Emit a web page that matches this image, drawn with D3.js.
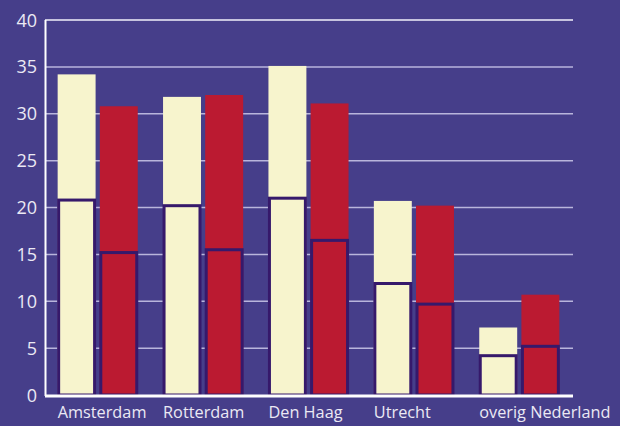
<!DOCTYPE html>
<html>
<head>
<meta charset="utf-8">
<script src="https://cdn.jsdelivr.net/npm/d3@7"></script>
<style>
  html, body { margin: 0; padding: 0; background: #463e8a; }
  svg { display: block; }
  text { font-family: "Open Sans", sans-serif; fill: #ebe9f4; }
</style>
</head>
<body>
<div id="chart"></div>
<script>
// data
const categories = ["Amsterdam", "Rotterdam", "Den Haag", "Utrecht", "overig Nederland"];
const series = ["cream", "red"];
const totals = {
  cream: [34.2, 31.8, 35.1, 20.7, 7.2],
  red: [30.8, 32.0, 31.1, 20.2, 10.7]
};
const inner = {
  cream: [20.9, 20.3, 21.1, 12.0, 4.3],
  red: [15.3, 15.6, 16.6, 9.8, 5.3]
};
const yTicks = [0, 5, 10, 15, 20, 25, 30, 35, 40];

const width = 620, height = 426;
const colors = { cream: "#f7f4cd", red: "#bb1a31" };

const svg = d3.select("#chart").append("svg")
  .attr("width", width)
  .attr("height", height);

svg.append("rect").attr("width", width).attr("height", height).attr("fill", "#463e8a");

const x0 = d3.scaleBand().domain(categories).range([45, 572]).paddingInner(0.24).paddingOuter(0.12);
const x1 = d3.scaleBand().domain(series).range([0, x0.bandwidth()]).paddingInner(0.1);
const y = d3.scaleLinear().domain([0, 40]).range([395, 20]);

// gridlines
svg.append("g").selectAll("line")
  .data(yTicks.filter(d => d > 0))
  .join("line")
  .attr("x1", 45).attr("x2", 573)
  .attr("y1", d => y(d)).attr("y2", d => y(d))
  .attr("stroke", d => d === 40 ? "#f2f0fa" : "#b9b5dc")
  .attr("stroke-width", 1.5);

// bars
const groups = svg.append("g").selectAll("g")
  .data(categories)
  .join("g")
  .attr("transform", d => `translate(${x0(d)},0)`);

const rows = (c, i) => series.map(s => ({ s, total: totals[s][i], inner: inner[s][i] }));

groups.selectAll("rect.total")
  .data(rows)
  .join("rect")
  .attr("class", "total")
  .attr("x", d => x1(d.s))
  .attr("width", x1.bandwidth())
  .attr("y", d => y(d.total))
  .attr("height", d => y(0) - y(d.total))
  .attr("fill", d => colors[d.s]);

groups.selectAll("rect.inner")
  .data(rows)
  .join("rect")
  .attr("class", "inner")
  .attr("x", d => x1(d.s) + 1)
  .attr("width", x1.bandwidth() - 2)
  .attr("y", d => y(d.inner) + 1)
  .attr("height", d => y(0) - y(d.inner) - 1)
  .attr("fill", d => colors[d.s])
  .attr("stroke", "#36196b")
  .attr("stroke-width", 3);

// axes
svg.append("line")
  .attr("x1", 45.5).attr("x2", 45.5)
  .attr("y1", 20).attr("y2", 396)
  .attr("stroke", "#ffffff").attr("stroke-width", 2);
svg.append("line")
  .attr("x1", 45).attr("x2", 573)
  .attr("y1", 396).attr("y2", 396)
  .attr("stroke", "#ffffff").attr("stroke-width", 3);

// y labels
svg.append("g").selectAll("text")
  .data(yTicks)
  .join("text")
  .attr("x", 37)
  .attr("y", d => y(d) + 6.5)
  .attr("text-anchor", "end")
  .attr("font-size", 18)
  .text(d => d);

// x labels
svg.append("g").selectAll("text")
  .data(categories)
  .join("text")
  .attr("x", d => x0(d))
  .attr("y", 418)
  .attr("font-size", 16.3)
  .text(d => d);
</script>
</body>
</html>
